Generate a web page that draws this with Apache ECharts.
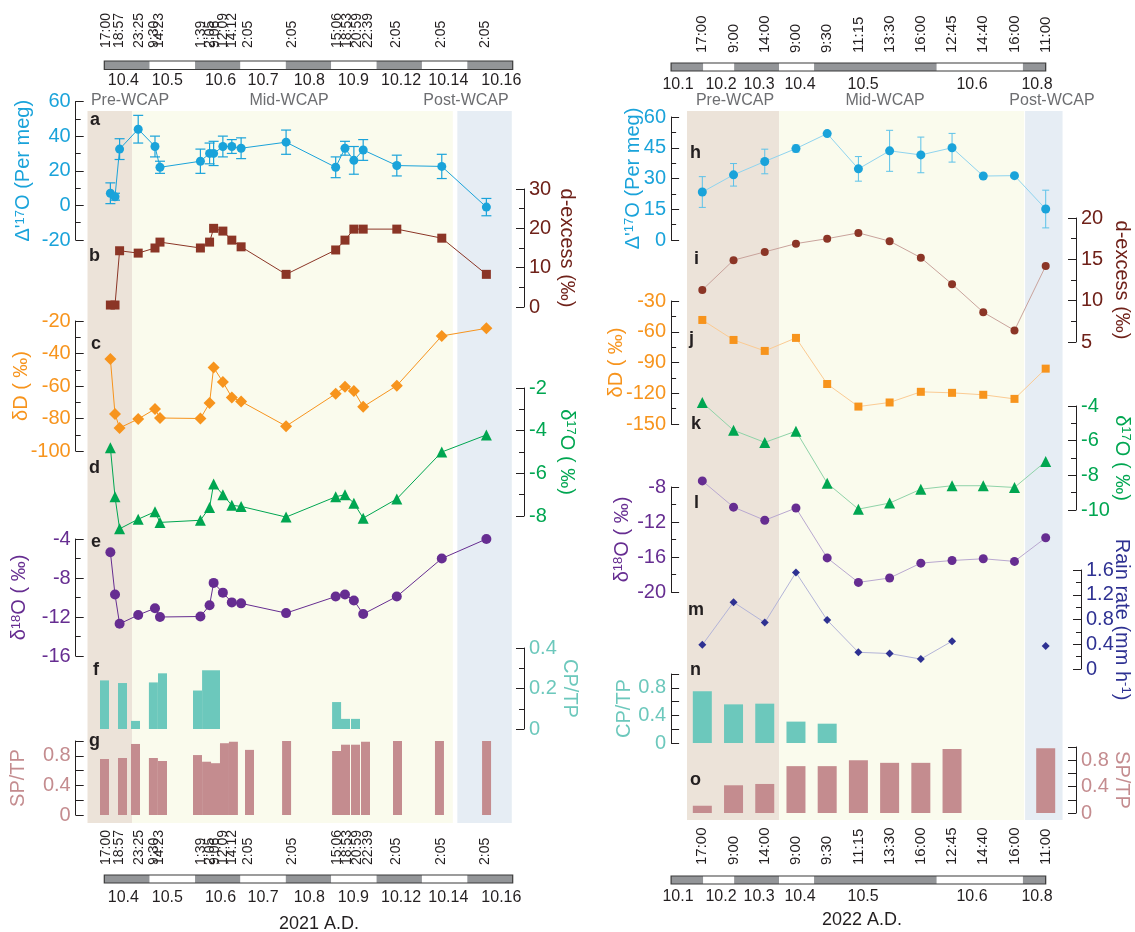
<!DOCTYPE html>
<html>
<head>
<meta charset="utf-8">
<title>WCAP isotopes</title>
<script src="https://cdn.jsdelivr.net/npm/echarts@6.0.0/dist/echarts.min.js"></script>
<style>
html,body{margin:0;padding:0;background:#ffffff;}
#chart{width:1135px;height:932px;}
</style>
</head>
<body>
<div id="chart"></div>
<script>
// ================= 2021 campaign (left figure) =================
// sample positions on the timeline (days after start of 10.4)
const pos21 = [0.134, 0.236, 0.337, 0.747, 1.117, 1.227, 2.118, 2.320, 2.409, 2.613, 2.810, 3.015, 4.006, 5.099, 5.304, 5.500, 5.705, 6.446, 7.437, 8.420];
const dp17O21 = [7, 5, 32.5, 44, 34, 22, 25.5, 30, 30, 34, 34, 33, 36.5, 22, 33, 26, 32, 23, 22.5, -1];
const dp17Oerr21 = [6, 2, 6, 8, 6, 3.5, 7, 6, 7, 6, 4, 6, 7, 6, 4, 8, 6, 6, 7, 5];
const dex21 = [0.5, 0.5, 14.3, 13.7, 15, 16.5, 15, 16.5, 20, 19.3, 17, 15.3, 8.3, 14.5, 17, 19.8, 19.8, 19.8, 17.5, 8.3];
const dD21 = [-43.4, -77.2, -85.8, -80.3, -74.2, -79.7, -80, -70.5, -48.6, -57.5, -67, -69.5, -84.7, -64.8, -60.4, -63, -72.8, -59.8, -29.2, -24.5];
const d17O21 = [-4.8, -7.1, -8.6, -8.15, -7.8, -8.3, -8.2, -7.6, -6.5, -7, -7.5, -7.55, -8.05, -7.1, -7.0, -7.4, -8.1, -7.2, -5.0, -4.2];
const d18O21 = [-5.35, -9.7, -12.7, -11.8, -11.1, -12, -11.95, -10.8, -8.5, -9.5, -10.5, -10.6, -11.6, -9.9, -9.7, -10.3, -11.7, -9.9, -6.0, -4.0];
const barPos21 = [0.004, 0.401, 0.688, 1.082, 1.283, 2.054, 2.254, 2.451, 2.648, 2.845, 3.2, 4.017, 5.119, 5.315, 5.536, 5.756, 6.461, 7.386, 8.424];
const cpTp21 = [0.24, 0.227, 0.04, 0.23, 0.275, 0.19, 0.29, 0.29, null, null, null, null, 0.133, 0.05, 0.05, null, null, null, null];
const spTp21 = [0.757, 0.77, 0.96, 0.77, 0.73, 0.81, 0.72, 0.70, 0.97, 0.99, 0.88, 1.0, 0.865, 0.95, 0.95, 0.99, 1.0, 1.0, 1.0];
const phases21 = [[-0.37, 0.61, 0], [0.61, 7.68, 1], [7.78, 8.98, 2]];
const timeTickPos21 = [0.04, 0.23, 0.32, 0.76, 1.10, 1.21, 2.13, 2.34, 2.44, 2.62, 2.81, 3.18, 4.15, 5.13, 5.35, 5.58, 5.81, 6.44, 7.42, 8.40];
const timeTickLab21 = ['17:00','17:30','18:57','23:25','9:30','14:23','1:39','2:05','9:06','12:09','14:12','2:05','2:05','15:06','18:53','20:59','22:39','2:05','2:05','2:05'];
const dayBands21 = [[0,1,1],[1,2,0],[2,3,1],[3,4,0],[4,5,1],[5,6,0],[6,7,1],[7,8,0],[8,9,1]];
const dayLabPos21 = [0.42, 1.39, 2.56, 3.5, 4.52, 5.49, 6.54, 7.58, 8.75];
const dayLab21 = ['10.4','10.5','10.6','10.7','10.8','10.9','10.12','10.14','10.16'];

// ================= 2022 campaign (right figure) =================
const idx22 = [0,1,2,3,4,5,6,7,8,9,10,11];
const dp17O22 = [23.4, 31.8, 38.3, 44.6, 51.9, 34.7, 43.5, 41.5, 45, 31.2, 31.4, 15.1];
const dp17Oerr22 = [7.5, 5.5, 6, 1.7, 0, 6, 10, 8.7, 7, 0, 0, 9.2];
const dex22 = [11.3, 14.9, 15.9, 16.9, 17.5, 18.2, 17.2, 15.2, 12.0, 8.6, 6.4, 14.2];
const dD22 = [-48.5, -68, -78.7, -66, -111, -133, -129, -118.6, -119.6, -121.5, -125.5, -96];
const d17O22 = [-3.8, -5.4, -6.1, -5.45, -8.45, -9.95, -9.6, -8.8, -8.6, -8.6, -8.7, -7.2];
const d18O22 = [-7.3, -10.3, -11.8, -10.4, -16.1, -18.9, -18.4, -16.7, -16.4, -16.2, -16.5, -13.8];
const rain22 = [0.39, 1.08, 0.75, 1.56, 0.79, 0.27, 0.25, 0.16, 0.45, null, null, 0.37];
const cpTp22 = [0.75, 0.56, 0.57, 0.31, 0.28, null, null, null, null, null, null, null];
const spTp22 = [0.11, 0.42, 0.44, 0.71, 0.71, 0.80, 0.76, 0.76, 0.97, null, null, 0.98];
const phases22 = [[-0.49, 2.46, 0], [2.46, 10.31, 1], [10.34, 11.54, 2]];
const timeTickPos22 = [0,1,2,3,4,5,6,7,8,9,10,11];
const timeTickLab22 = ['17:00','9:00','14:00','9:00','9:30','11:15','13:30','16:00','12:45','14:40','16:00','11:00'];
const dayBands22 = [[-1,0.03,1],[0.03,1.02,0],[1.02,2.46,1],[2.46,3.58,0],[3.58,7.51,1],[7.51,10.27,0],[10.27,11,1]];
const dayLabPos22 = [-0.78, 0.6, 1.82, 3.13, 5.15, 8.64, 10.72];
const dayLab22 = ['10.1','10.2','10.3','10.4','10.5','10.6','10.8'];

// ================= styling =================
const FONT = '"Liberation Sans", Arial, Helvetica, sans-serif';
const INK = '#231f20';
const CYAN = '#1aa3da', BROWN = '#8b3526', BROWN_T = '#6f2119', ORANGE = '#f7941d', GREEN = '#00a651',
      PURPLE = '#662d91', TEAL = '#6cc8bc', PINK = '#c48c8f', NAVY = '#2e3192';
const PHASE_COLORS = ['#ece3d9', '#fafbed', '#e6edf4'];

const grid = [], xAxis = [], yAxis = [], series = [], graphic = [];

function nearestLabel(posArr, labArr, v) {
  let bi = 0, bd = Infinity;
  posArr.forEach((p, i) => { const d = Math.abs(p - v); if (d < bd) { bd = d; bi = i; } });
  return labArr[bi];
}
function addHiddenGrid(rect, xmin, xmax) {
  const gi = grid.length; grid.push(Object.assign({outerBoundsMode: 'none'}, rect));
  const xi = xAxis.length; xAxis.push({gridIndex: gi, type: 'value', min: xmin, max: xmax, show: false});
  const yi = yAxis.length; yAxis.push({gridIndex: gi, type: 'value', min: 0, max: 1, show: false});
  return {gi, xi, yi};
}
function addBands(ax, bands, colors, z) {
  series.push({type: 'custom', xAxisIndex: ax.xi, yAxisIndex: ax.yi, z: z, silent: true, animation: false, clip: false,
    data: bands,
    renderItem: function (params, api) {
      const p0 = api.coord([api.value(0), 1]), p1 = api.coord([api.value(1), 0]);
      return {type: 'rect', shape: {x: p0[0], y: p0[1], width: p1[0] - p0[0], height: p1[1] - p0[1]},
              style: {fill: colors[api.value(2)]}};
    }});
}
function addTimeline(t) {
  const gi = grid.length;
  grid.push({left: t.left, top: t.top, width: t.width, height: t.height, outerBoundsMode: 'none'});
  const xi = xAxis.length;
  xAxis.push({gridIndex: gi, type: 'value', position: 'top', min: t.min, max: t.max,
    axisLine: {show: false}, splitLine: {show: false},
    axisTick: {show: true, customValues: t.tickPos, length: 6, lineStyle: {color: INK, width: 1}},
    axisLabel: {show: true, customValues: t.tickPos, rotate: 90, margin: t.labMargin, fontSize: t.fs, fontFamily: FONT,
      color: INK, hideOverlap: false, showMinLabel: true, showMaxLabel: true,
      formatter: (v) => nearestLabel(t.tickPos, t.tickLab, v)}});
  xAxis.push({gridIndex: gi, type: 'value', position: 'bottom', min: t.min, max: t.max,
    axisLine: {show: false}, splitLine: {show: false}, axisTick: {show: false},
    axisLabel: {show: true, customValues: t.datePos, margin: t.dateMargin, fontSize: 16, fontFamily: FONT, color: INK,
      hideOverlap: false, showMinLabel: true, showMaxLabel: true,
      formatter: (v) => nearestLabel(t.datePos, t.dateLab, v)}});
  const yi = yAxis.length;
  yAxis.push({gridIndex: gi, type: 'value', min: 0, max: 1, show: false});
  addBands({xi, yi}, t.bands, ['#ffffff', '#939598'], 2);
  series.push({type: 'custom', xAxisIndex: xi, yAxisIndex: yi, z: 3, silent: true, animation: false, clip: false,
    data: [[t.min, t.max]],
    renderItem: function (params, api) {
      const p0 = api.coord([api.value(0), 1]), p1 = api.coord([api.value(1), 0]);
      return {type: 'rect', shape: {x: p0[0], y: p0[1], width: p1[0] - p0[0], height: p1[1] - p0[1]},
              style: {fill: null, stroke: '#3a3a3a', lineWidth: 1.2}};
    }});
}
function addPanel(p) {
  const gi = grid.length;
  grid.push({left: p.left, top: p.top, width: p.width, height: p.height, outerBoundsMode: 'none'});
  const xi = xAxis.length;
  xAxis.push({gridIndex: gi, type: 'value', min: p.xmin, max: p.xmax, show: false});
  const yi = yAxis.length;
  const tc = p.color;
  yAxis.push({gridIndex: gi, type: 'value', position: p.side, offset: p.offset, min: p.min, max: p.max, interval: p.interval,
    axisLine: {show: true, onZero: false, lineStyle: {color: INK, width: 1}},
    axisTick: {show: true, inside: true, length: 8, lineStyle: {color: INK, width: 1}},
    minorTick: {show: !!p.minor, splitNumber: 2, length: 5, lineStyle: {color: INK, width: 1}},
    splitLine: {show: false}, minorSplitLine: {show: false},
    axisLabel: {show: true, color: tc, fontSize: 20, fontFamily: FONT, margin: 5, showMinLabel: true, showMaxLabel: true,
      hideOverlap: false, formatter: p.fmt},
    name: p.name, nameLocation: 'middle', nameGap: p.nameGap, nameRotate: p.side === 'left' ? 90 : -90,
    nameMoveOverlap: false,
    nameTextStyle: {color: tc, fontSize: 20, fontFamily: FONT, rich: {
      n: {color: tc, fontSize: 20, fontFamily: FONT},
      s: {color: tc, fontSize: 13, fontFamily: FONT, verticalAlign: 'top'}}}});
  return {gi, xi, yi};
}
function addLine(ax, xs, ys, st) {
  series.push({type: 'line', xAxisIndex: ax.xi, yAxisIndex: ax.yi, z: 5, silent: true, animation: false, clip: false,
    data: xs.map((x, i) => [x, ys[i] == null ? '-' : ys[i]]),
    symbol: st.symbol, symbolSize: st.size, showSymbol: true, connectNulls: false,
    itemStyle: {color: st.color, borderWidth: 0}, lineStyle: {color: st.line || st.color, width: st.lw || 1}});
}
function addErr(ax, xs, ys, es, st) {
  series.push({type: 'custom', xAxisIndex: ax.xi, yAxisIndex: ax.yi, z: 4, silent: true, animation: false, clip: false,
    data: xs.map((x, i) => [x, ys[i], es[i]]),
    renderItem: function (params, api) {
      const x = api.value(0), y = api.value(1), e = api.value(2);
      if (!e) return null;
      const t = api.coord([x, y + e]), b = api.coord([x, y - e]), w = st.cap / 2;
      const s = {stroke: st.color, lineWidth: st.lw || 1};
      return {type: 'group', children: [
        {type: 'line', shape: {x1: t[0], y1: t[1], x2: b[0], y2: b[1]}, style: s},
        {type: 'line', shape: {x1: t[0] - w, y1: t[1], x2: t[0] + w, y2: t[1]}, style: s},
        {type: 'line', shape: {x1: b[0] - w, y1: b[1], x2: b[0] + w, y2: b[1]}, style: s}]};
    }});
}
function addBars(ax, xs, ys, st) {
  series.push({type: 'bar', xAxisIndex: ax.xi, yAxisIndex: ax.yi, z: 3, silent: true, animation: false,
    data: xs.map((x, i) => [x, ys[i] == null ? '-' : ys[i]]), barWidth: st.w, barGap: '-100%',
    itemStyle: {color: st.color}});
}
function txt(x, y, s, st) {
  graphic.push({type: 'text', x: x, y: y, silent: true, z: 50,
    style: Object.assign({text: s, fill: INK, fontFamily: FONT, fontSize: 16, align: 'center', verticalAlign: 'middle'}, st)});
}
const only048 = (v) => ([0, 0.4, 0.8].some(t => Math.abs(t - v) < 1e-6) ? String(+v.toFixed(1)) : '');

// ================= LEFT FIGURE =================
const L = {left: 104.3, width: 408.4, xmin: 0, xmax: 9};
const bgL = addHiddenGrid({left: 104.3, width: 408.4, top: 111, height: 712}, 0, 9);
addBands(bgL, phases21, PHASE_COLORS, 0);

const pa = addPanel(Object.assign({}, L, {top: 101.5, height: 138.5, side: 'left', offset: 28.6, min: -20, max: 60, interval: 20, minor: true,
  color: CYAN, name: "{n|Δ'}{s|17}{n|O (Per meg)}", nameGap: 42}));
addErr(pa, pos21, dp17O21, dp17Oerr21, {color: CYAN, cap: 10, lw: 1.2});
addLine(pa, pos21, dp17O21, {symbol: 'circle', size: 9, color: CYAN});

const pb = addPanel(Object.assign({}, L, {top: 189, height: 118, side: 'right', offset: 11.3, min: 0, max: 30, interval: 10, minor: true,
  color: BROWN_T, name: 'd-excess (‰)', nameGap: 33}));
addLine(pb, pos21, dex21, {symbol: 'rect', size: 9, color: BROWN});

const pc = addPanel(Object.assign({}, L, {top: 321, height: 130, side: 'left', offset: 28.6, min: -100, max: -20, interval: 20, minor: true,
  color: ORANGE, name: 'δD ( ‰)', nameGap: 44}));
addLine(pc, pos21, dD21, {symbol: 'diamond', size: 12, color: ORANGE});

const pd = addPanel(Object.assign({}, L, {top: 388, height: 128, side: 'right', offset: 11.3, min: -8, max: -2, interval: 2, minor: true,
  color: GREEN, name: '{n|δ}{s|17}{n|O ( ‰)}', nameGap: 33}));
addLine(pd, pos21, d17O21, {symbol: 'triangle', size: 11, color: GREEN});

const pe = addPanel(Object.assign({}, L, {top: 539, height: 117, side: 'left', offset: 28.6, min: -16, max: -4, interval: 4, minor: true,
  color: PURPLE, name: '{n|δ}{s|18}{n|O ( ‰)}', nameGap: 46}));
addLine(pe, pos21, d18O21, {symbol: 'circle', size: 10, color: PURPLE});

const pf = addPanel(Object.assign({}, L, {top: 648, height: 81, side: 'right', offset: 11.3, min: 0, max: 0.4, interval: 0.2, minor: true,
  color: TEAL, name: 'CP/TP', nameGap: 36}));
addBars(pf, barPos21, cpTp21, {w: 9, color: TEAL});

const pg = addPanel(Object.assign({}, L, {top: 741, height: 74, side: 'left', offset: 28.6, min: 0, max: 1, interval: 0.2, minor: false,
  color: PINK, name: 'SP/TP', nameGap: 47, fmt: only048}));
addBars(pg, barPos21, spTp21, {w: 9, color: PINK});

addTimeline({left: 104.3, top: 61, width: 408.4, height: 8.5, min: 0, max: 9, tickPos: timeTickPos21, tickLab: timeTickLab21,
  datePos: dayLabPos21, dateLab: dayLab21, bands: dayBands21, fs: 14, labMargin: 13, dateMargin: 3});
addTimeline({left: 104.3, top: 875, width: 408.4, height: 8, min: 0, max: 9, tickPos: timeTickPos21, tickLab: timeTickLab21,
  datePos: dayLabPos21, dateLab: dayLab21, bands: dayBands21, fs: 14, labMargin: 10, dateMargin: 7});

// ================= RIGHT FIGURE =================
const R = {left: 671.1, width: 374.6, xmin: -1, xmax: 11};
const bgR = addHiddenGrid({left: 671.1, width: 374.6, top: 111, height: 709}, -1, 11);
addBands(bgR, phases22, PHASE_COLORS, 0);

const ph = addPanel(Object.assign({}, R, {top: 117, height: 123, side: 'left', offset: 0, min: 0, max: 60, interval: 15, minor: true,
  color: CYAN, name: "{n|Δ'}{s|17}{n|O (Per meg)}", nameGap: 28}));
addErr(ph, idx22, dp17O22, dp17Oerr22, {color: '#5cc2e9', cap: 7, lw: 1});
addLine(ph, idx22, dp17O22, {symbol: 'circle', size: 9, color: CYAN, line: '#8fd4ef', lw: 1});

const pi = addPanel(Object.assign({}, R, {top: 218, height: 124, side: 'right', offset: 30.3, min: 5, max: 20, interval: 5, minor: true,
  color: BROWN_T, name: 'd-excess (‰)', nameGap: 36}));
addLine(pi, idx22, dex22, {symbol: 'circle', size: 8, color: BROWN, line: '#c9a39c', lw: 1});

const pj = addPanel(Object.assign({}, R, {top: 301, height: 123, side: 'left', offset: 0, min: -150, max: -30, interval: 30, minor: true,
  color: ORANGE, name: 'δD ( ‰)', nameGap: 45}));
addLine(pj, idx22, dD22, {symbol: 'rect', size: 8, color: ORANGE, line: '#fbcb93', lw: 1});

const pk = addPanel(Object.assign({}, R, {top: 406, height: 104, side: 'right', offset: 30.3, min: -10, max: -4, interval: 2, minor: true,
  color: GREEN, name: '{n|δ}{s|17}{n|O ( ‰)}', nameGap: 36}));
addLine(pk, idx22, d17O22, {symbol: 'triangle', size: 11, color: GREEN, line: '#8fd3a8', lw: 1});

const pl = addPanel(Object.assign({}, R, {top: 487, height: 105, side: 'left', offset: 0, min: -20, max: -8, interval: 4, minor: true,
  color: PURPLE, name: '{n|δ}{s|18}{n|O ( ‰)}', nameGap: 39}));
addLine(pl, idx22, d18O22, {symbol: 'circle', size: 9, color: PURPLE, line: '#b9a8d0', lw: 1});

const pm = addPanel(Object.assign({}, R, {top: 570, height: 99, side: 'right', offset: 35.3, min: 0, max: 1.6, interval: 0.4, minor: true,
  color: NAVY, name: '{n|Rain rate (mm h}{s|-1}{n|)}', nameGap: 31}));
addLine(pm, idx22, rain22, {symbol: 'diamond', size: 8, color: NAVY, line: '#b3b4d8', lw: 1});

const pn = addPanel(Object.assign({}, R, {top: 674, height: 69, side: 'left', offset: 0, min: 0, max: 1, interval: 0.2, minor: false,
  color: TEAL, name: 'CP/TP', nameGap: 37, fmt: only048}));
addBars(pn, idx22, cpTp22, {w: 19, color: TEAL});

const po = addPanel(Object.assign({}, R, {top: 747, height: 66, side: 'right', offset: 30.3, min: 0, max: 1, interval: 0.2, minor: false,
  color: PINK, name: 'SP/TP', nameGap: 36, fmt: only048}));
addBars(po, idx22, spTp22, {w: 19, color: PINK});

addTimeline({left: 671.1, top: 63, width: 374.6, height: 8, min: -1, max: 11, tickPos: timeTickPos22, tickLab: timeTickLab22,
  datePos: dayLabPos22, dateLab: dayLab22, bands: dayBands22, fs: 15, labMargin: 10, dateMargin: 6});
addTimeline({left: 671.1, top: 876, width: 374.6, height: 8, min: -1, max: 11, tickPos: timeTickPos22, tickLab: timeTickLab22,
  datePos: dayLabPos22, dateLab: dayLab22, bands: dayBands22, fs: 15, labMargin: 11, dateMargin: 5});

// ================= annotations =================
const GRAYT = '#6d6e71';
txt(130, 101, 'Pre-WCAP', {fill: GRAYT, fontSize: 16});
txt(289, 101, 'Mid-WCAP', {fill: GRAYT, fontSize: 16});
txt(466, 101, 'Post-WCAP', {fill: GRAYT, fontSize: 16});
txt(735, 101, 'Pre-WCAP', {fill: GRAYT, fontSize: 16});
txt(885, 101, 'Mid-WCAP', {fill: GRAYT, fontSize: 16});
txt(1052, 101, 'Post-WCAP', {fill: GRAYT, fontSize: 16});
txt(319, 924, '2021 A.D.', {fontSize: 18});
txt(862, 920, '2022 A.D.', {fontSize: 18});
const LB = {fontSize: 18, fontWeight: 'bold', align: 'left'};
[['a',90,120],['b',89,256],['c',91,344],['d',89,468],['e',91,542],['f',93,670],['g',89,741]].forEach(l => txt(l[1], l[2], l[0], LB));
[['h',690,153],['i',694,259],['j',689,339],['k',691,424],['l',694,503],['m',688,610],['n',690,670],['o',690,780]].forEach(l => txt(l[1], l[2], l[0], LB));

const chart = echarts.init(document.getElementById('chart'), null, {renderer: 'canvas', width: 1135, height: 932});
chart.setOption({
  animation: false,
  backgroundColor: '#ffffff',
  textStyle: {fontFamily: FONT},
  grid: grid, xAxis: xAxis, yAxis: yAxis, series: series, graphic: graphic
});
</script>
</body>
</html>
